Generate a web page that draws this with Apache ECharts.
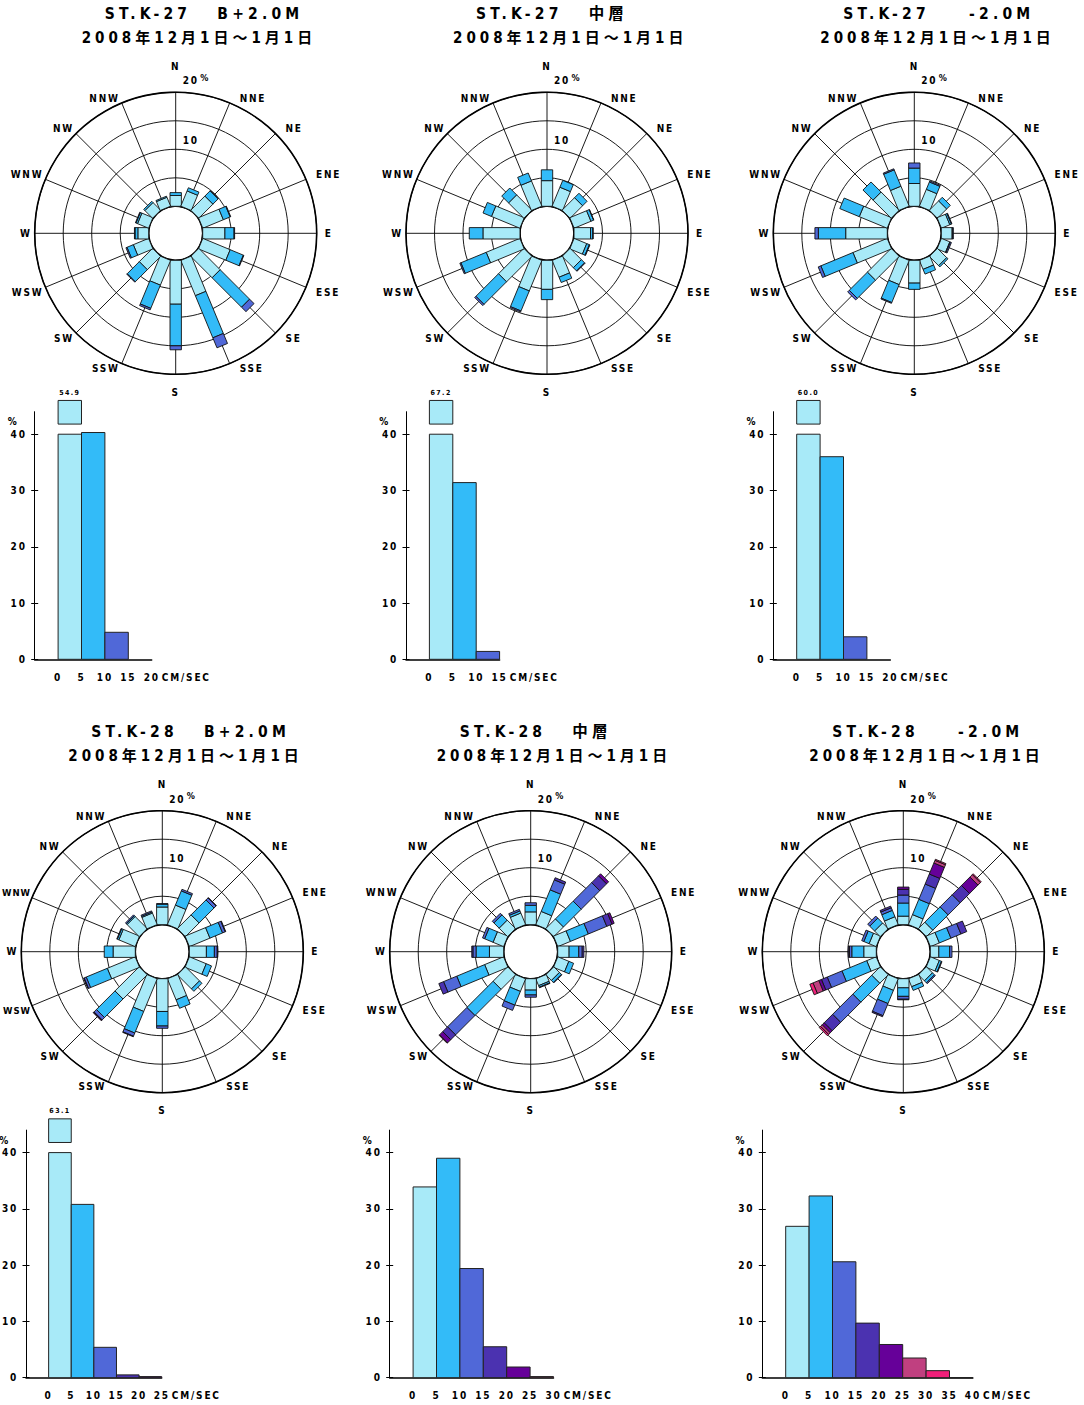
<!DOCTYPE html>
<html><head><meta charset="utf-8">
<script src="https://cdn.jsdelivr.net/npm/echarts@6/dist/echarts.min.js"></script>
<style>
html,body{margin:0;padding:0;background:#fff;}
#chart{width:1084px;height:1405px;}
#chart text{white-space:pre;}
#chart text[style*="15px"]{letter-spacing:4px;}
#chart text[style*="15.5px"]{letter-spacing:4.2px;word-spacing:4px;}
#chart text[style*="10px"]{letter-spacing:1.8px;}
#chart text[style*="9.5px"]{letter-spacing:1px;}
#chart text[style*=" 9px"],#chart text[style*=":9px"]{letter-spacing:1px;}
#chart text[style*=" 7px"],#chart text[style*=":7px"]{letter-spacing:1.4px;}
</style></head><body><div id="chart"></div>
<script>
// ---------------- data ----------------
const directions = ['N','NNE','NE','ENE','E','ESE','SE','SSE','S','SSW','SW','WSW','W','WNW','NW','NNW'];
const speedClasses = ['0-5','5-10','10-15','15-20','20-25','25-30','30-35','35-40'];
const titleLine1 = ['ST.K-27  B+2.0M','ST.K-27  中層','ST.K-27   -2.0M','ST.K-28  B+2.0M','ST.K-28  中層','ST.K-28   -2.0M'];
const periodText = '2008年12月1日～1月1日';
const histTicks = [0,10,20,30,40];
const histMax = [20,15,20,25,30,40];

// wind roses: per direction (N..NNW), % per speed class
const roseK27B = [[1.9,0.5,0],[2.9,0.6,0],[3.5,1.3,0.1],[3.9,1.3,0.1],[3.9,1.6,0.1],[5.2,2.5,0.1],[5.3,7.3,1.1],[6.7,8.0,1.9],
                  [7.7,7.3,0.7],[4.7,4.4,0.3],[3.3,3.0,0.1],[2.9,1.2,0.2],[1.9,0.5,0.1],[2.1,0.3,0.1],[1.9,0.3,0],[1.7,0.2,0]];
const roseK27M = [[4.5,1.9,0],[3.6,1.3,0],[3.1,1.1,0],[3.2,0.5,0.05],[2.9,0.4,0.05],[2.4,0.5,0.1],[2.8,0.8,0.1],[3.2,1.0,0],
                  [5.1,1.8,0],[5.8,3.8,0.2],[6.3,5.6,0.3],[6.4,4.8,0.2],[6.5,2.4,0],[5.4,1.6,0],[3.8,1.7,0],[4.8,1.5,0]];
const roseK27L = [[4.0,2.7,0.9],[3.2,1.4,0.2],[2.3,0.9,0],[1.6,0.3,0.1],[1.9,0.1,0.1],[1.6,0.1,0.2],[2.3,0.3,0],[1.7,0.9,0],
                  [4.0,1.1,0],[4.6,3.4,0.15],[5.9,4.5,0.4],[6.5,6.1,0.5],[7.3,4.8,0.6],[5.3,3.7,0],[4.5,2.5,0],[3.8,3.1,0.2]];
const roseK28B = [[3.1,0.5,0.1,0,0],[3.7,2.7,0.3,0,0],[3.4,3.7,0.5,0.1,0],[3.9,2.4,0.5,0.1,0],[3.0,1.4,0.5,0.1,0],[3.2,1.0,0,0,0],
                  [3.5,0.6,0,0,0],[4.0,1.6,0,0,0],[5.75,2.55,0.4,0,0],[6.2,4.1,0.6,0.1,0],[6.0,4.6,0.6,0.1,0.1],[5.3,4.0,0.4,0.1,0],
                  [3.9,1.55,0,0,0],[3.1,0.3,0.1,0,0],[3.0,0.2,0.2,0,0],[2.2,0.2,0.2,0,0]];
const roseK28M = [[2.25,1.15,0.45,0,0,0],[2.5,4.1,1.9,0.4,0,0],[2.4,4.4,4.6,1.7,0.5,0],[2.4,3.4,3.5,1.0,0.4,0],[2.0,1.7,0.6,0.3,0,0],
                  [2.1,0.9,0,0,0,0],[1.4,0.5,0.1,0,0,0],[1.3,0.3,0.1,0,0,0],[2.0,0.85,0.4,0,0,0],[2.4,2.6,1.0,0,0,0],
                  [3.6,6.5,4.8,1.2,0.8,0.1],[3.6,5.3,2.5,0.9,0,0],[2.5,2.35,0.55,0.2,0,0],[2.0,1.6,0.4,0,0,0],[2.1,1.3,0.4,0,0,0],[2.2,0.4,0.3,0,0,0]];
const roseK28L = [[1.5,2.3,1.4,1.0,0.4,0,0],[1.9,2.9,2.9,1.9,2.1,0.5,0.2],[1.6,3.8,3.0,2.3,2.1,0.6,0.2],[1.7,2.2,1.9,1.1,0,0,0],
                  [1.5,1.9,0.4,0,0,0,0],[1.7,0.4,0.1,0,0,0,0],[1.5,0.5,0.2,0,0,0,0],[1.5,0.7,0,0,0,0,0],[1.6,1.5,0.5,0.1,0,0,0],
                  [2.2,2.5,2.3,0.2,0,0,0],[2.1,4.7,5.0,2.1,0.5,0.4,0.3],[1.8,4.7,2.8,1.1,0.5,1.1,0.6],[2.2,2.1,0.4,0.2,0,0,0],
                  [1.35,1.0,0.4,0,0,0,0],[1.4,1.2,0.5,0,0,0,0],[1.5,1.2,0.5,0.3,0,0,0]];

// speed histograms (% per class)
const histK27B = [54.9,40.3,4.8];
const histK27M = [67.2,31.4,1.4];
const histK27L = [60.0,36.0,4.0];
const histK28B = [63.1,30.8,5.4,0.5,0.2];
const histK28M = [33.9,39.0,19.4,5.5,1.9,0.2];
const histK28L = [26.9,32.3,20.6,9.7,5.9,3.5,1.25,0];

// ---------------- style / layout ----------------
const speedColors = ['#A8EAF8','#33BBF8','#5068D8','#4B32B0','#660099','#C04080','#F0207A','#B00000'];
const FONT = "'Liberation Sans Narrow','DejaVu Sans Condensed','Roboto Condensed','Roboto','Noto Sans CJK JP',sans-serif";
const roses = [roseK27B, roseK27M, roseK27L, roseK28B, roseK28M, roseK28L];
const hists = [histK27B, histK27M, histK27L, histK28B, histK28M, histK28L];
const centers = [[175.7,233.3],[547,233.3],[914.3,233.3],[162.3,951.7],[530.7,951.7],[903.3,951.7]];
const BAR_HALF = 5.7;
const BREAK_CAP = 40;     // broken bars are cut at this value
const BREAK_LIMIT = 44;   // values above the axis top get a broken bar
const PX_PER_SPEED = 4.68;
const GRID_H = 247.6;

const txt = (size, weight) => ({fontSize: size, fontWeight: weight || 'bold', fontFamily: FONT, color: '#000'});

function makeDirLabel(tightLeft) {
  return function (v) {
    const i = Math.round(v / 22.5);
    if (i >= 16) return '';
    let c;
    if (i === 0) c = 'n'; else if (i === 8) c = 's'; else if (i === 4) c = 'e'; else if (i === 12) c = 'w';
    else if (i < 8) c = 'r'; else c = 'l';
    if (tightLeft && (i === 11 || i === 13)) c = 't';
    return '{' + c + '|' + directions[i] + '}';
  };
}
const dirRich = {
  n: Object.assign(txt(10), {padding: [0,0,21,0]}),
  s: Object.assign(txt(10), {padding: [13,0,0,0]}),
  e: Object.assign(txt(10), {padding: [0,0,0,8]}),
  w: Object.assign(txt(10), {padding: [0,3,0,0]}),
  r: Object.assign(txt(10), {padding: [0,0,0,10]}),
  l: Object.assign(txt(10), {padding: [0,2,0,0]}),
  t: Object.assign(txt(9.5), {padding: [0,1,0,0]})
};

function roseItem(params, api) {
  const r1 = api.value(0), ang = api.value(1), r0 = api.value(2), c = api.value(3);
  const a = api.coord([0, ang]), b = api.coord([20, ang]);
  const len = Math.hypot(b[0]-a[0], b[1]-a[1]);
  const ux = (b[0]-a[0]) / len, uy = (b[1]-a[1]) / len;
  const nx = -uy * BAR_HALF, ny = ux * BAR_HALF;
  const p0 = api.coord([r0, ang]), p1 = api.coord([r1, ang]);
  return {
    type: 'polygon',
    shape: {points: [[p0[0]+nx,p0[1]+ny],[p1[0]+nx,p1[1]+ny],[p1[0]-nx,p1[1]-ny],[p0[0]-nx,p0[1]-ny]]},
    style: {fill: speedColors[c], stroke: '#111', lineWidth: 0.9}
  };
}

function histItem(params, api) {
  const x0 = api.value(0), v = api.value(1), x1 = api.value(2), c = api.value(3);
  const broken = v > BREAK_LIMIT;
  const top = broken ? BREAK_CAP : v;
  const a = api.coord([x0, top]), b = api.coord([x1, 0]);
  const st = {fill: speedColors[c], stroke: '#222', lineWidth: 1};
  const children = [{type: 'rect', shape: {x: a[0], y: a[1], width: b[0]-a[0], height: b[1]-a[1]}, style: st}];
  if (broken) {
    const t = api.coord([x0, 46]), u = api.coord([x1, 41.8]);
    children.push({type: 'rect', shape: {x: t[0], y: t[1], width: u[0]-t[0], height: u[1]-t[1]}, style: st});
    children.push({type: 'text', x: (t[0]+u[0])/2, y: t[1]-4,
      style: {text: v.toFixed(1), fontSize: 7, fontWeight: 'bold', fontFamily: FONT, fill: '#000', align: 'center', verticalAlign: 'bottom'}});
  }
  return {type: 'group', children: children};
}

const option = {
  animation: false,
  backgroundColor: '#fff',
  title: [],
  polar: [], angleAxis: [], radiusAxis: [],
  grid: [], xAxis: [], yAxis: [],
  series: []
};

centers.forEach((c, i) => {
  const row = i < 3 ? 0 : 1;
  const t1 = row === 0 ? 6 : 724;
  option.title.push({text: titleLine1[i], left: c[0]-71, top: t1, padding: 0, textStyle: Object.assign(txt(15.5), {lineHeight: 16})});
  option.title.push({text: periodText, left: c[0]-94, top: t1+24, padding: 0, textStyle: Object.assign(txt(15), {lineHeight: 16})});

  option.polar.push({center: c, radius: [27, 141]});
  option.angleAxis.push({
    polarIndex: i, type: 'value', min: 0, max: 360, interval: 22.5, startAngle: 90, clockwise: true,
    axisLine: {lineStyle: {color: '#000', width: 1.6}},
    axisTick: {show: false},
    splitLine: {show: true, lineStyle: {color: '#000', width: 0.9}},
    axisLabel: {margin: 0, formatter: makeDirLabel(c[0] - 141 < 30), rich: dirRich}
  });
  option.radiusAxis.push({
    polarIndex: i, type: 'value', min: 0, max: 20, interval: 5,
    axisLine: {show: false}, axisTick: {show: false},
    splitLine: {show: true, lineStyle: {color: '#000', width: 0.9}},
    axisLabel: {show: true, align: 'left', verticalAlign: 'bottom', margin: -7, padding: [0,0,4,0],
      formatter: v => v === 10 ? '{a|10}' : (v === 20 ? '{a|20}{p|%}' : ''),
      rich: {a: txt(10), p: Object.assign(txt(9), {padding: [0,0,6,5]})}}
  });

  const data = [];
  roses[i].forEach((vals, d) => {
    let acc = 0;
    vals.forEach((v, k) => { if (v > 0) { data.push([acc+v, d*22.5, acc, k]); acc += v; } });
  });
  option.series.push({type: 'custom', coordinateSystem: 'polar', polarIndex: i, renderItem: roseItem, data: data, z: 5});

  // histogram
  const zeroY = row === 0 ? 659.3 : 1377.7;
  option.grid.push({left: c[0]-141, top: zeroY - GRID_H, width: (histMax[i]+5)*PX_PER_SPEED, height: GRID_H});
  option.xAxis.push({
    gridIndex: i, type: 'value', min: -5, max: histMax[i], interval: 5,
    axisLine: {onZero: false, lineStyle: {color: '#000', width: 1.5}},
    axisTick: {show: false}, splitLine: {show: false},
    axisLabel: Object.assign(txt(10), {margin: 13, formatter: v => v < 0 ? '' : String(v)}),
    name: 'CM/SEC', nameLocation: 'end', nameGap: -5,
    nameTextStyle: Object.assign(txt(10), {verticalAlign: 'top', padding: [13,0,0,0]})
  });
  option.yAxis.push({
    gridIndex: i, type: 'value', min: 0, max: 44, interval: 10, position: 'left',
    axisLine: {show: true, onZero: false, lineStyle: {color: '#000', width: 1}},
    axisTick: {show: true, length: 3.5, customValues: histTicks, lineStyle: {color: '#000'}},
    axisLabel: Object.assign(txt(10), {margin: 8, customValues: histTicks}),
    splitLine: {show: false},
    name: '%', nameLocation: 'end', nameGap: -5,
    nameTextStyle: Object.assign(txt(10), {align: 'right', verticalAlign: 'top', padding: [0,16,0,0]})
  });
  option.yAxis.push({
    gridIndex: i, type: 'value', min: 0, max: 44, interval: 10, position: 'left',
    axisLine: {show: false, onZero: false},
    axisTick: {show: true, inside: true, length: 3.5, customValues: histTicks, lineStyle: {color: '#000'}},
    axisLabel: {show: false}, splitLine: {show: false}
  });
  const hdata = hists[i].map((v, k) => [k*5, v, k*5+5, k]);
  option.series.push({type: 'custom', coordinateSystem: 'cartesian2d', xAxisIndex: i, yAxisIndex: 2*i,
    encode: {x: [0, 2], y: 1}, renderItem: histItem, data: hdata, clip: false});
});

const chart = echarts.init(document.getElementById('chart'), null, {renderer: 'svg', width: 1084, height: 1405});
chart.setOption(option);
</script></body></html>
